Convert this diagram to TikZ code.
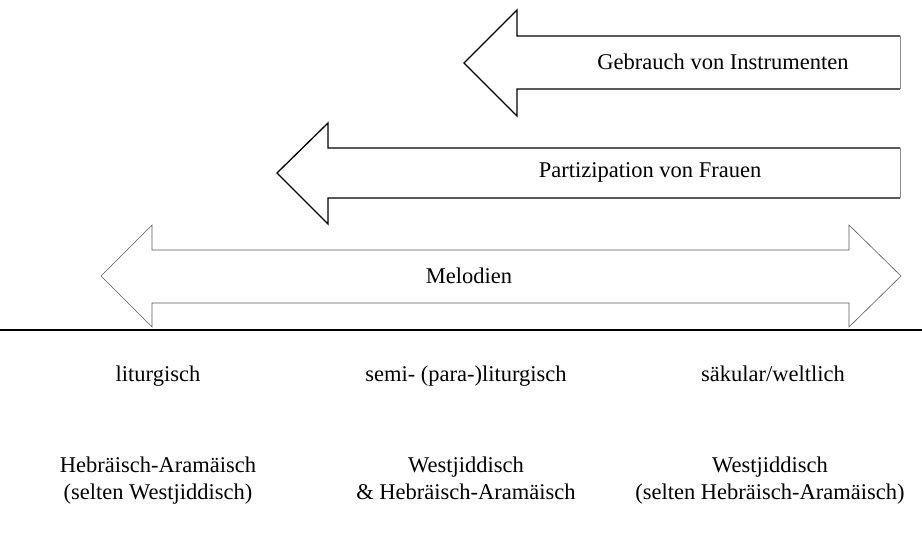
\documentclass[tikz,border=0pt]{standalone}
\usepackage{fontspec}
\setmainfont{Liberation Serif}
\usetikzlibrary{positioning}
\tikzset{
  basic/.style     = {font=\fontsize{22.5}{27}\selectfont, inner sep=0pt, align=center},
  heading/.style   = {basic},
  lang/.style      = {basic},
  bigarrow/.style  = {draw, line width=1.3pt, line join=miter},
  thinarrow/.style = {draw=black!65, line width=0.6pt, line join=miter},
  endline/.style   = {draw=black!45, line width=0.5pt}
}

\begin{document}
\begin{tikzpicture}[x=1pt, y=-1pt, node distance=76pt]
\useasboundingbox (0,0) rectangle (922,535);

% the three arrows, top to bottom
\draw[bigarrow] (900,36) -- (517,36) -- (517,10) -- (464,63) -- (517,116) -- (517,89) -- (900,89);
\draw[endline] (900,36) -- (900,89);
\node[basic] (instr) at (723,62) {Gebrauch von Instrumenten};

\draw[bigarrow] (900,148) -- (328,148) -- (328,123) -- (277,173) -- (328,224) -- (328,198) -- (900,198);
\draw[endline] (900,148) -- (900,198);
\node[basic] (frauen) at (650,172) {Partizipation von Frauen};

\draw[thinarrow] (152,250) -- (849,250) -- (849,225) -- (901,276) -- (849,327) -- (849,303)
  -- (152,303) -- (152,327) -- (101,276) -- (152,225) -- cycle;
\node[basic] (melodien) at (469,276) {Melodien};

% dividing line
\coordinate (l) at (0,330);
\coordinate (r) at (922,330);
\draw[line width=1.5pt] (l) -- (r);

% columns below the line
\node[heading, anchor=base] (h1) at (158,381) {liturgisch};
\node[heading, anchor=base] (h2) at (466,381) {semi- (para-)liturgisch};
\node[heading, anchor=base] (h3) at (773,381) {säkular/weltlich};

\node[lang, below=of h1.base] (s1) {Hebräisch-Aramäisch\\(selten Westjiddisch)};
\node[lang, below=of h2.base] (s2) {Westjiddisch\\\& Hebräisch-Aramäisch};
\node[lang, below=of h3.base, xshift=-3pt] (s3) {Westjiddisch\\(selten Hebräisch-Aramäisch)};

\end{tikzpicture}
\end{document}
